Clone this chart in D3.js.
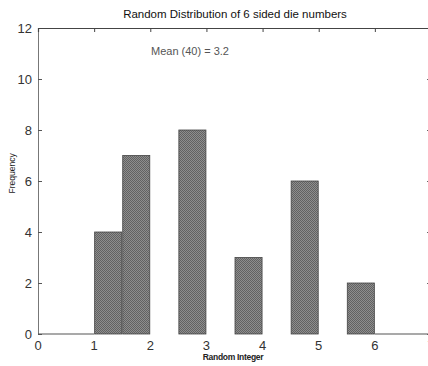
<!DOCTYPE html>
<html>
<head>
<meta charset="utf-8">
<script src="https://cdn.jsdelivr.net/npm/d3@7"></script>
<style>
  body { margin: 0; background: #fff; }
  text { font-family: "Liberation Sans", Arial, sans-serif; }
</style>
</head>
<body>
<div id="chart"></div>
<script>
// Histogram bins (left edge, right edge, count)
const binStarts = [1, 1.5, 2.5, 3.5, 4.5, 5.5];
const binEnds   = [1.5, 2, 3, 4, 5, 6];
const counts    = [4, 7, 8, 3, 6, 2];
// empty bins drawn as flat outline on the baseline
const emptyStarts = [0, 6];
const emptyEnds   = [1, 7];
const xTicks = [0, 1, 2, 3, 4, 5, 6, 7];
const yTicks = [0, 2, 4, 6, 8, 10, 12];
const titleText = "Random Distribution of 6 sided die numbers";
const meanText = "Mean (40) = 3.2";

const width = 428, height = 366;
const margin = {top: 28, left: 38, bottom: 32};

const svg = d3.select("#chart").append("svg")
    .attr("width", width)
    .attr("height", height);

// dithered grey fill, like the printed original
const defs = svg.append("defs");
const pat = defs.append("pattern")
    .attr("id", "dither")
    .attr("width", 2).attr("height", 2)
    .attr("patternUnits", "userSpaceOnUse");
pat.append("rect").attr("width", 2).attr("height", 2).attr("fill", "#8e8e8e");
pat.append("rect").attr("width", 1).attr("height", 1).attr("fill", "#626262");
pat.append("rect").attr("x", 1).attr("y", 1).attr("width", 1).attr("height", 1).attr("fill", "#626262");

const x = d3.scaleLinear().domain([0, 7]).range([margin.left, 431]);
const y = d3.scaleLinear().domain([0, 12]).range([height - margin.bottom, margin.top]);

// left axis, ticks inward
const leftAxis = svg.append("g")
    .attr("transform", `translate(${x(0)},0)`)
    .call(d3.axisRight(y).tickValues(yTicks).tickSize(4).tickFormat(""));
leftAxis.select(".domain").attr("stroke", "#777");
leftAxis.selectAll(".tick line").attr("stroke", "#555");

svg.append("g").selectAll("text")
    .data(yTicks)
    .join("text")
    .attr("x", x(0) - 6)
    .attr("y", d => y(d))
    .attr("dy", "0.35em")
    .attr("text-anchor", "end")
    .attr("font-size", 13)
    .attr("fill", "#333")
    .text(d => d);

// right axis (mostly off the picture)
const rightAxis = svg.append("g")
    .attr("transform", `translate(${x(7)},0)`)
    .call(d3.axisLeft(y).tickValues(yTicks).tickSize(4).tickFormat(""));
rightAxis.select(".domain").attr("stroke", "#999");
rightAxis.selectAll(".tick line").attr("stroke", "#666");

// top axis, ticks inward
const topAxis = svg.append("g")
    .attr("transform", `translate(0,${y(12)})`)
    .call(d3.axisBottom(x).tickValues(xTicks).tickSize(4).tickFormat(""));
topAxis.select(".domain").attr("stroke", "#444").attr("stroke-width", 1.2);
topAxis.selectAll(".tick line").attr("stroke", "#444");

// x tick labels
svg.append("g").selectAll("text")
    .data(xTicks)
    .join("text")
    .attr("x", d => x(d))
    .attr("y", y(0) + 16)
    .attr("text-anchor", "middle")
    .attr("font-size", 13)
    .attr("fill", "#333")
    .text(d => d);

// bars
const bins = counts.map((c, i) => ({x0: binStarts[i], x1: binEnds[i], count: c}));
svg.append("g").selectAll("rect")
    .data(bins)
    .join("rect")
    .attr("x", d => x(d.x0) + 0.5)
    .attr("y", d => y(d.count))
    .attr("width", d => x(d.x1) - x(d.x0) - 1)
    .attr("height", d => y(0) - y(d.count))
    .attr("fill", "url(#dither)")
    .attr("stroke", "#444")
    .attr("stroke-width", 0.8);

// empty bins on baseline
svg.append("g").selectAll("line")
    .data(emptyStarts.map((s, i) => ({x0: s, x1: emptyEnds[i]})))
    .join("line")
    .attr("x1", d => x(d.x0))
    .attr("x2", d => x(d.x1))
    .attr("y1", y(0))
    .attr("y2", y(0))
    .attr("stroke", "#555")
    .attr("stroke-width", 1.2);

// texts
svg.append("text")
    .attr("x", 235).attr("y", 18)
    .attr("text-anchor", "middle")
    .attr("font-size", 11.5)
    .attr("fill", "#111")
    .text(titleText);

svg.append("text")
    .attr("x", 151).attr("y", 55)
    .attr("font-size", 11)
    .attr("fill", "#555")
    .text(meanText);

svg.append("text")
    .attr("transform", `translate(15,${y(6.3)}) rotate(-90)`)
    .attr("text-anchor", "middle")
    .attr("font-size", 8.5)
    .attr("fill", "#222")
    .text("Frequency");

svg.append("text")
    .attr("x", 233).attr("y", 360)
    .attr("text-anchor", "middle")
    .attr("font-size", 8.5)
    .attr("font-weight", "bold")
    .attr("letter-spacing", -0.3)
    .attr("fill", "#222")
    .text("Random Integer");
</script>
</body>
</html>
